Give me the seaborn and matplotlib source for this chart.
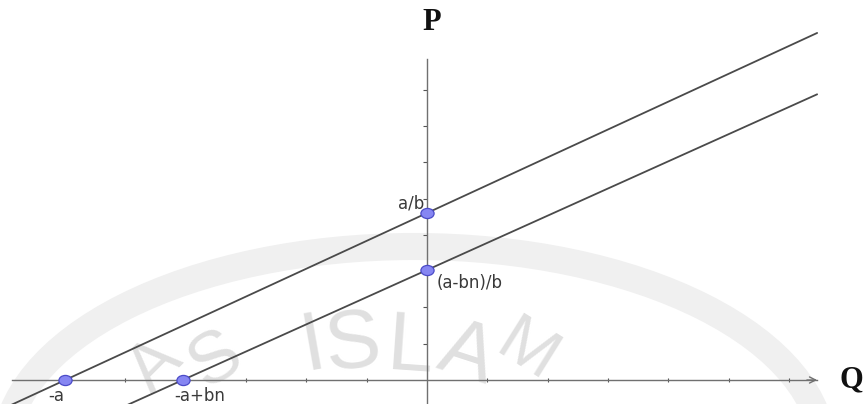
import numpy as np
import pandas as pd
import matplotlib
matplotlib.use("Agg")
import matplotlib.pyplot as plt
from matplotlib.patches import Ellipse
from matplotlib.path import Path
from matplotlib.transforms import Affine2D
import seaborn as sns

# Intercepts of the two supply lines
q_intercepts = [-6.0, -4.05]          # on the Q axis
p_intercepts = [4.6, 3.03]            # on the P axis
q_labels = ["-a", "-a+bn"]
p_labels = ["a/b", "(a-bn)/b"]
x_ticks = [-6, -5, -4, -3, -2, -1, 1, 2, 3, 4, 5, 6]
y_ticks = [1, 2, 3, 4, 5, 6, 7, 8]

sns.set_theme(style="white")
plt.rcParams["font.family"] = ["DejaVu Sans"]

W, H = 865, 404
fig = plt.figure(figsize=(W / 100, H / 100), dpi=100)
fig.patch.set_facecolor("white")

# faint background seal (pixel coordinates)
wm = fig.add_axes([0, 0, 1, 1], zorder=0)
wm.set_xlim(0, W)
wm.set_ylim(H, 0)
wm.axis("off")
wm.add_patch(Ellipse((414, 453), 2 * 409.5, 2 * 206.5, fill=False,
                     lw=19.5, ec="#f0f0f0"))
seal_letters = [("A", 156, 366, 45, 50), ("S", 216, 360, 32, 52),
                ("I", 313, 346, 10, 60), ("S", 352, 345, 6, 60),
                ("L", 410, 349, -4, 60), ("A", 467, 355, -18, 58),
                ("M", 526, 352, -32, 50)]
for ch, x, y, rot, size in seal_letters:
    wm.text(x, y, ch, ha="center", va="center", rotation=rot,
            rotation_mode="anchor", fontsize=size, color="#e0e0e0",
            family=["Liberation Sans Narrow", "Liberation Sans"])

# main coordinate system
ax = fig.add_axes([0, 0, 1, 1], zorder=1)
ax.patch.set_alpha(0)
x0, y0 = 427, 380          # origin in pixels
ux, uy = 60.3, 36.3        # pixels per unit
ax.set_xlim(-x0 / ux, (W - x0) / ux)
ax.set_ylim(-(H - y0) / uy, y0 / uy)

axis_col = "#707070"
for s in ["top", "right"]:
    ax.spines[s].set_visible(False)
ax.spines["left"].set_position(("data", 0))
ax.spines["bottom"].set_position(("data", 0))
ax.spines["bottom"].set_bounds(-6.88, 6.46)
ax.spines["left"].set_bounds(-1.0, 8.84)
for s in ["left", "bottom"]:
    ax.spines[s].set_color(axis_col)
    ax.spines[s].set_linewidth(1.0)
ax.set_xticks(x_ticks)
ax.set_yticks(y_ticks)
ax.set_xticklabels([])
ax.set_yticklabels([])
ax.tick_params(axis="x", direction="inout", length=3, width=0.8,
               color="#555555", bottom=True)
ax.tick_params(axis="y", direction="out", length=3, width=0.8,
               color="#555555", left=True)
ax.grid(False)
ax.annotate("", xy=(6.47, 0), xytext=(6.3, 0),
            arrowprops=dict(arrowstyle="->", color=axis_col, lw=1.0,
                            mutation_scale=11, shrinkA=0, shrinkB=0))

# the two lines, each through its pair of intercepts
q_span = np.array([-7.6, 6.47])
for q0, p0 in zip(q_intercepts, p_intercepts):
    line = pd.DataFrame({"Q": q_span, "P": p0 - p0 / q0 * q_span})
    sns.lineplot(data=line, x="Q", y="P", ax=ax, color="#4a4a4a",
                 lw=1.3, zorder=3)

# intercept points
oval = Path(Affine2D().scale(1.3, 1.0).transform(Path.unit_circle().vertices),
            Path.unit_circle().codes)
pts = pd.DataFrame({"Q": q_intercepts + [0.0, 0.0],
                    "P": [0.0, 0.0] + p_intercepts})
sns.scatterplot(data=pts, x="Q", y="P", ax=ax, marker=oval, s=90,
                color="#8686f2", edgecolor="#4b4bc8", linewidth=0.9, zorder=4)
ax.set_xlabel("")
ax.set_ylabel("")

txt = dict(fontsize=12, color="#3a3a3a", textcoords="offset pixels",
           va="baseline")
ax.annotate(q_labels[0], (q_intercepts[0], 0), xytext=(-17, -21), ha="left", **txt)
ax.annotate(q_labels[1], (q_intercepts[1], 0), xytext=(-9, -21), ha="left", **txt)
ax.annotate(p_labels[0], (0, p_intercepts[0]), xytext=(-3, 5), ha="right", **txt)
ax.annotate(p_labels[1], (0, p_intercepts[1]), xytext=(10, -18), ha="left", **txt)

# axis names
fig.text(432 / W, 1 - 22 / H, "P", ha="center", va="center", fontsize=22,
         fontweight="bold", family="Liberation Serif", color="#111111")
fig.text(851 / W, 1 - 380 / H, "Q", ha="center", va="center", fontsize=22,
         fontweight="bold", family="Liberation Serif", color="#111111")

fig.savefig("out.png", dpi=100, facecolor="white")
